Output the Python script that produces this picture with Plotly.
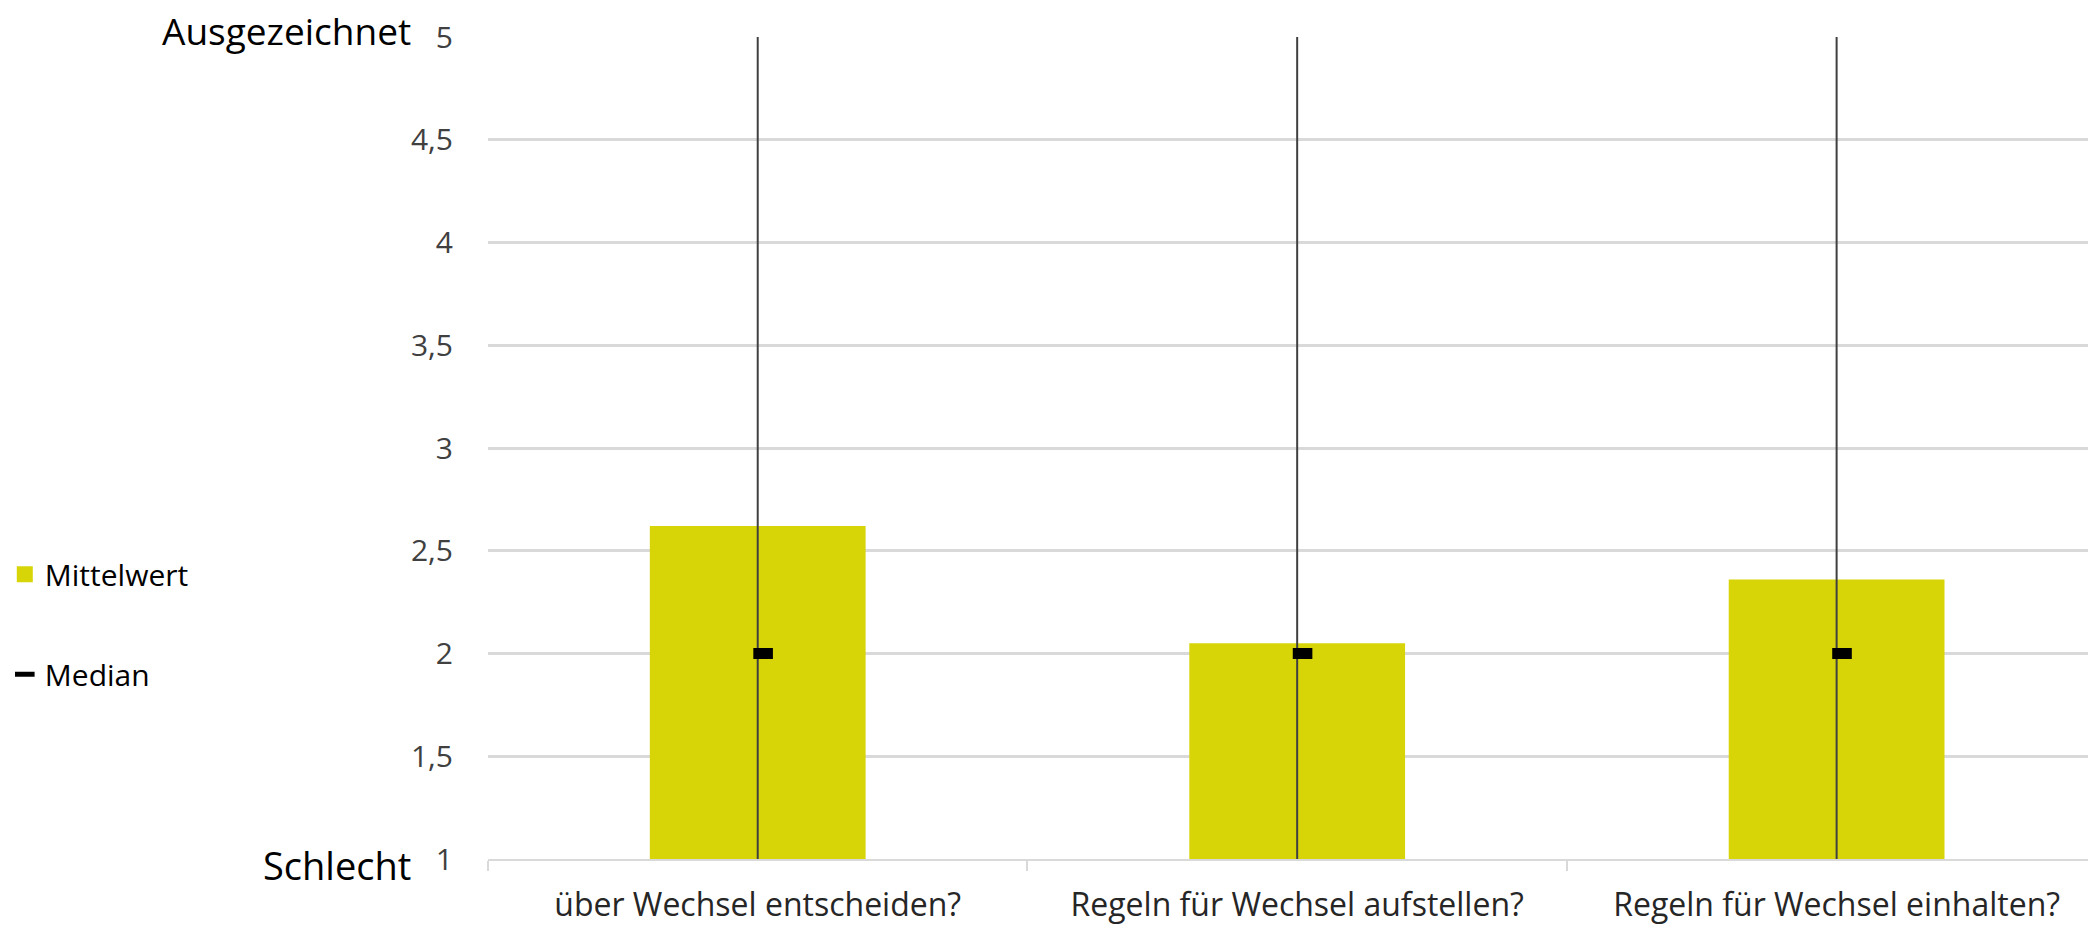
import plotly.graph_objects as go

# Survey items and summary statistics on a 1 (Schlecht) to 5 (Ausgezeichnet) scale
categories = ["über Wechsel entscheiden?", "Regeln für Wechsel aufstellen?", "Regeln für Wechsel einhalten?"]
mittelwert = [2.62, 2.05, 2.36]
median = [2, 2, 2]
minimum = [1, 1, 1]
maximum = [5, 5, 5]
y_ticks = [1, 1.5, 2, 2.5, 3, 3.5, 4, 4.5, 5]

FONT = "Open Sans"
BAR_COLOR = "#d7d508"
LINE_COLOR = "#404040"

x_pos = list(range(len(categories)))

fig = go.Figure()

# mean bars
fig.add_trace(go.Bar(
    x=x_pos, y=[m - 1 for m in mittelwert], base=1,
    width=0.4, marker=dict(color=BAR_COLOR, line=dict(width=0)),
    name="Mittelwert", showlegend=False, hoverinfo="skip",
))
# legend entry for the mean bars
fig.add_trace(go.Scatter(
    x=[None], y=[None], mode="markers", name="Mittelwert",
    marker=dict(symbol="square", size=16, color=BAR_COLOR),
    legendgroup="a",
))

# min-max range lines
fig.add_trace(go.Scatter(
    x=x_pos, y=median, mode="markers",
    marker=dict(size=1, color="rgba(0,0,0,0)"),
    error_y=dict(type="data", symmetric=False,
                 array=[mx - md for mx, md in zip(maximum, median)],
                 arrayminus=[md - mn for md, mn in zip(median, minimum)],
                 width=0, thickness=2, color=LINE_COLOR),
    showlegend=False, hoverinfo="skip",
))

# medians
fig.add_trace(go.Scatter(
    x=[p + 0.01 for p in x_pos], y=median, mode="markers", name="Median",
    marker=dict(symbol="line-ew", size=14, line=dict(width=11, color="#000000"), color="#000000"),
    legendgroup="b",
))

fig.update_layout(
    width=2088, height=925,
    margin=dict(l=488, r=0, t=37, b=63),
    paper_bgcolor="white", plot_bgcolor="white",
    separators=",.",
    bargap=0.6,
    font=dict(family=FONT, color="#262626"),
    legend=dict(
        x=-0.302, xanchor="left", y=0.378, yanchor="top",
        font=dict(family=FONT, size=30, color="#000000"),
        tracegroupgap=58, itemwidth=30, bgcolor="rgba(0,0,0,0)",
    ),
    showlegend=True,
)

fig.update_xaxes(
    range=[-0.5, 2.466],
    tickvals=x_pos, ticktext=categories,
    tickfont=dict(family=FONT, size=32, color="#262626"),
    ticks="", ticklabelstandoff=17,
    showline=True, linecolor="#d9d9d9", linewidth=2,
    showgrid=False, zeroline=False,
    minor=dict(tick0=-0.5, dtick=1, ticks="outside", ticklen=10, tickcolor="#d9d9d9", tickwidth=2, showgrid=False),
)

fig.update_yaxes(
    range=[1, 5], tickvals=y_ticks,
    tickfont=dict(family=FONT, size=30, color="#404040"),
    ticks="", ticklabelstandoff=34,
    showgrid=True, gridcolor="#d9d9d9", gridwidth=3,
    zeroline=False, showline=False,
)

# scale end labels
fig.add_annotation(text="Ausgezeichnet", xref="paper", yref="y", x=-0.0466, y=5,
                   xanchor="right", yanchor="middle", yshift=7, showarrow=False,
                   font=dict(family=FONT, size=37, color="#000000"))
fig.add_annotation(text="Schlecht", xref="paper", yref="y", x=-0.0469, y=1,
                   xanchor="right", yanchor="middle", yshift=-6, showarrow=False,
                   font=dict(family=FONT, size=38, color="#000000"))

fig.write_html("out.html")
